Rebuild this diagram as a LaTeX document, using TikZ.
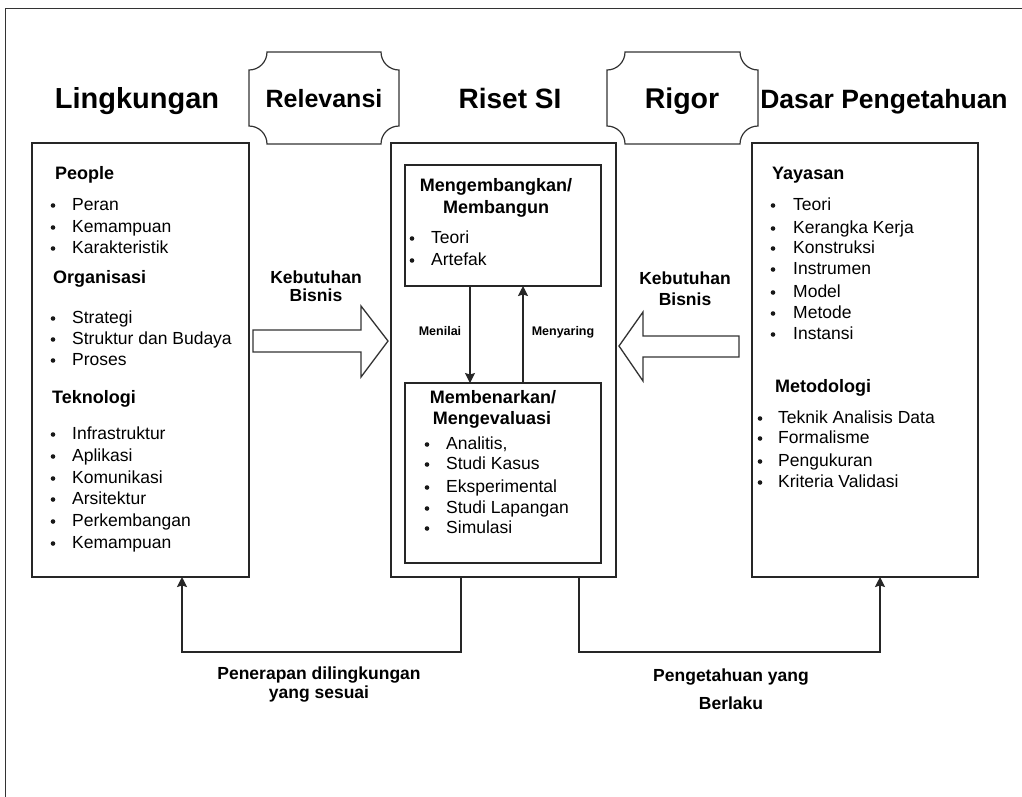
\documentclass[tikz,border=0pt]{standalone}
\usepackage{fontspec}
\setmainfont{Liberation Sans}
\usetikzlibrary{arrows.meta,calc}
\tikzset{
  box/.style={draw=black!85, line width=1.2pt, fill=white, inner sep=0pt, outer sep=0pt},
  frame/.style={draw=black!80, line width=1pt},
  head/.style={font=\bfseries\fontsize{28}{32}\selectfont, anchor=base, inner sep=0pt},
  subh/.style={font=\bfseries\fontsize{18}{21}\selectfont, anchor=base west, inner sep=0pt},
  item/.style={font=\fontsize{17.5}{21}\selectfont, anchor=base west, inner sep=0pt},
  lbl/.style={font=\bfseries\fontsize{17.5}{21}\selectfont, anchor=base, inner sep=0pt},
  smalllbl/.style={font=\bfseries\fontsize{12.5}{15}\selectfont, anchor=base, inner sep=0pt},
  bul/.style={fill=black!90},
  conn/.style={draw=black!85, line width=1.2pt, -{Stealth[length=10pt,width=10pt,inset=1.5pt]}},
  blockarrow/.style={draw=black!80, line width=1.3pt, fill=white, line join=miter},
  plaque/.style={draw=black!80, line width=1.2pt, fill=white}
}
\newcommand\myplaque[5]{% x1 y1 x2 y2 r
  \path[plaque] ({#1},{#2+#5})
    .. controls ({#1+0.552*#5},{#2+#5}) and ({#1+#5},{#2+0.552*#5}) .. ({#1+#5},{#2})
    -- ({#3-#5},{#2})
    .. controls ({#3-#5},{#2+0.552*#5}) and ({#3-0.552*#5},{#2+#5}) .. ({#3},{#2+#5})
    -- ({#3},{#4-#5})
    .. controls ({#3-0.552*#5},{#4-#5}) and ({#3-#5},{#4-0.552*#5}) .. ({#3-#5},{#4})
    -- ({#1+#5},{#4})
    .. controls ({#1+#5},{#4-0.552*#5}) and ({#1+0.552*#5},{#4-#5}) .. ({#1},{#4-#5})
    -- cycle;}
\begin{document}
\begin{tikzpicture}[x=1pt,y=-1pt]
\useasboundingbox (0,0) rectangle (1022,796);
\fill[white] (0,0) rectangle (1022,796);
% outer frame (cut by the picture edges)
\draw[frame] (5,800) -- (5,8) -- (1030,8);

% headings
\node[head, font=\bfseries\fontsize{29}{33}\selectfont] (hLing) at (137,108) {Lingkungan};
\myplaque{249}{52}{399}{144}{18}
\node[head, font=\bfseries\fontsize{25}{30}\selectfont] (hRel) at (324,107) {Relevansi};
\node[head] (hRiset) at (510,108) {Riset SI};
\myplaque{607}{52}{758}{144}{18}
\node[head, font=\bfseries\fontsize{28.5}{33}\selectfont] (hRig) at (682,108) {Rigor};
\node[head, font=\bfseries\fontsize{26.5}{31}\selectfont] (hDasar) at (884,108) {Dasar Pengetahuan};

% main boxes
\node[box, minimum width=217pt, minimum height=434pt] (ling) at (140.5,360) {};
\node[box, minimum width=225pt, minimum height=434pt] (riset) at (503.5,360) {};
\node[box, minimum width=226pt, minimum height=434pt] (dasar) at (865,360) {};
\node[box, minimum width=196pt, minimum height=121pt] (bangun) at (503,225.5) {};
\node[box, minimum width=196pt, minimum height=180pt] (evaluasi) at (503,473) {};

% left box contents
\node[subh] (sPeople) at (55,179) {People};
\foreach \t/\y [count=\i] in {Peran/204,Kemampuan/226,Karakteristik/247}{
  \node[item] (lp\i) at (72,\y+6) {\t};
  \fill[bul] (53,\y+1.5) circle (2.3);}
\node[subh] (sOrg) at (53,283) {Organisasi};
\foreach \t/\y [count=\i] in {Strategi/317,Struktur dan Budaya/338,Proses/359}{
  \node[item] (lo\i) at (72,\y+6) {\t};
  \fill[bul] (53,\y+1.5) circle (2.3);}
\node[subh] (sTek) at (52,403) {Teknologi};
\foreach \t/\y [count=\i] in {Infrastruktur/433,Aplikasi/455,Komunikasi/477,Arsitektur/498,Perkembangan/520,Kemampuan/542}{
  \node[item] (lt\i) at (72,\y+6) {\t};
  \fill[bul] (53,\y+1.5) circle (2.3);}

% right box contents
\node[subh] (sYay) at (772,179) {Yayasan};
\foreach \t/\y [count=\i] in {Teori/204,Kerangka Kerja/227,Konstruksi/247,Instrumen/268,Model/291,Metode/312,Instansi/333}{
  \node[item] (ry\i) at (793,\y+6) {\t};
  \fill[bul] (773,\y+1.5) circle (2.3);}
\node[subh] (sMet) at (775,392) {Metodologi};
\foreach \t/\y [count=\i] in {Teknik Analisis Data/417,Formalisme/437,Pengukuran/460,Kriteria Validasi/481}{
  \node[item] (rm\i) at (778,\y+6) {\t};
  \fill[bul] (760,\y+1.5) circle (2.3);}

% center top box contents
\node[lbl, font=\bfseries\fontsize{18}{21}\selectfont] (cb1) at (496,191) {Mengembangkan/};
\node[lbl, font=\bfseries\fontsize{18}{21}\selectfont] (cb2) at (496,213) {Membangun};
\node[item] (cb3) at (431,243) {Teori};
\fill[bul] (412,238.5) circle (2.3);
\node[item] (cb4) at (431,265) {Artefak};
\fill[bul] (412,260.5) circle (2.3);

% center bottom box contents
\node[lbl, font=\bfseries\fontsize{18}{21}\selectfont] (ce1) at (493,403) {Membenarkan/};
\node[lbl, font=\bfseries\fontsize{18}{21}\selectfont] (ce2) at (492,424) {Mengevaluasi};
\node[item] (ce3) at (446,449) {Analitis,};
\fill[bul] (427,444.5) circle (2.3);
\node[item] (ce4) at (446,469) {Studi Kasus};
\fill[bul] (427,464.5) circle (2.3);
\node[item] (ce5) at (446,492) {Eksperimental};
\fill[bul] (427,487.5) circle (2.3);
\node[item] (ce6) at (446,513) {Studi Lapangan};
\fill[bul] (427,508.5) circle (2.3);
\node[item] (ce7) at (446,533) {Simulasi};
\fill[bul] (427,528.5) circle (2.3);

% inner arrows
\coordinate (xa) at (470,0);
\coordinate (xb) at (523,0);
\draw[conn] (bangun.south -| xa) -- (evaluasi.north -| xa);
\draw[conn] (evaluasi.north -| xb) -- (bangun.south -| xb);
\node[smalllbl] (mNil) at (440,335) {Menilai};
\node[smalllbl] (mSar) at (563,335) {Menyaring};

% block arrows
\path[blockarrow] (253,330) -- (361,330) -- (361,306) -- (388,341) -- (361,377) -- (361,352) -- (253,352) -- cycle;
\path[blockarrow] (739,336) -- (643,336) -- (643,312) -- (619,346) -- (643,381) -- (643,357) -- (739,357) -- cycle;
\node[lbl] (kb1) at (316,283) {Kebutuhan};
\node[lbl] (kb2) at (316,301) {Bisnis};
\node[lbl] (kb3) at (685,284) {Kebutuhan};
\node[lbl] (kb4) at (685,305) {Bisnis};

% bottom connectors
\coordinate (r1) at (461,652);
\coordinate (b1) at (182,652);
\coordinate (r2) at (579,652);
\coordinate (b2) at (880,652);
\draw[conn] (riset.south -| r1) -- (r1) -- (b1) -- (ling.south -| b1);
\draw[conn] (riset.south -| r2) -- (r2) -- (b2) -- (dasar.south -| b2);
\node[lbl] (pn1) at (319,679) {Penerapan dilingkungan};
\node[lbl] (pn2) at (319,698) {yang sesuai};
\node[lbl] (pg1) at (731,681) {Pengetahuan yang};
\node[lbl] (pg2) at (731,709) {Berlaku};
\end{tikzpicture}
\end{document}
